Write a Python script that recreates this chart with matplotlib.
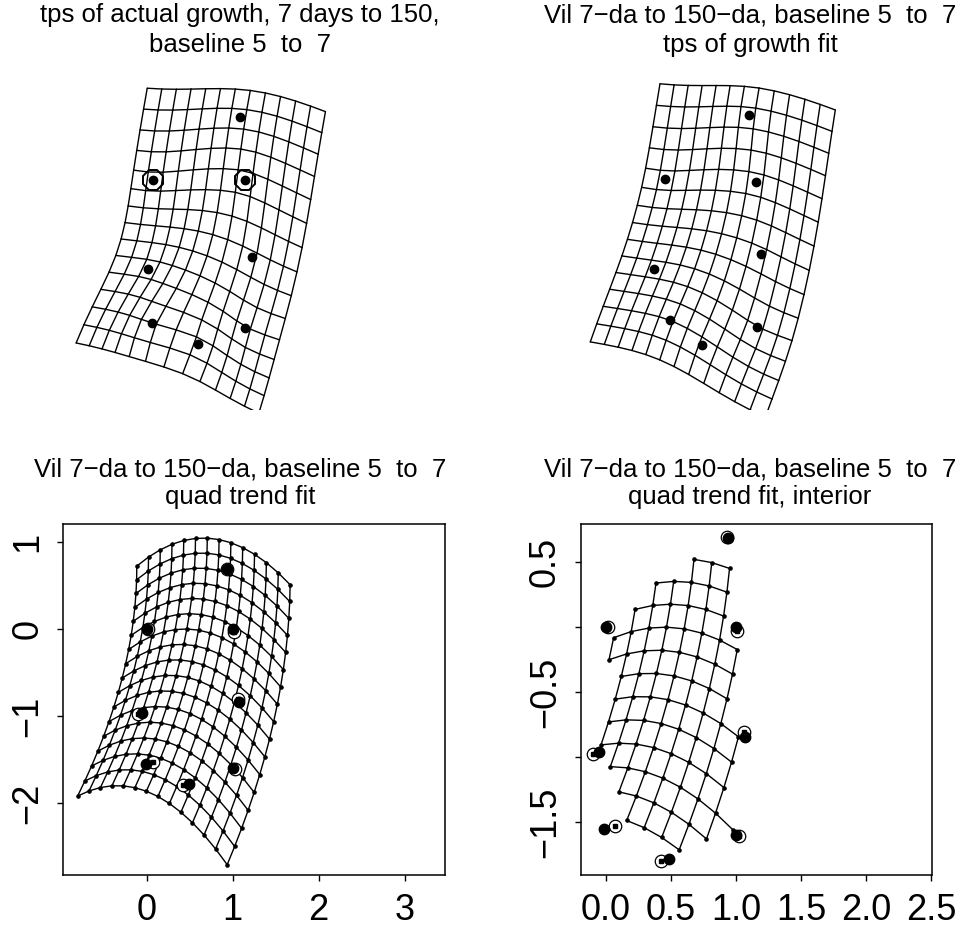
import numpy as np
import matplotlib.pyplot as plt
from matplotlib.collections import LineCollection
from matplotlib.path import Path

plt.rcParams['font.family'] = ['Liberation Sans', 'DejaVu Sans']

# Vilmann rat skulls, Bookstein shape coordinates on baseline 5 to 7
# 7-day mean form (read back off the grids)
day7_x = [0.847, 0.000, 1.000, 0.158, 1.188, 0.548, 0.942, 1.342]
day7_y = [0.489, 0.000, 0.000, -0.827, -0.465, -1.234, -1.289, -0.917]
# 150-day mean form
day150_x = [0.94, 0.00, 1.00, -0.05, 1.07, -0.01, 0.49, 1.00]
day150_y = [0.69, 0.00, 0.00, -0.96, -0.84, -1.55, -1.78, -1.60]
baseline_idx = [1, 2]

# regular grids laid over the 7-day form
tps_x, tps_y = (-0.228, 1.724), (-1.56, 0.715)
tps_lines = (13, 15)
quad_x, quad_y = (-0.2085, 1.571), (-1.463, 0.727)
quad_lines = (14, 17)

titles = [
    ("tps of actual growth, 7 days to 150,", "baseline 5  to  7"),
    ("Vil 7\u2212da to 150\u2212da, baseline 5  to  7", "tps of growth fit"),
    ("Vil 7\u2212da to 150\u2212da, baseline 5  to  7", "quad trend fit"),
    ("Vil 7\u2212da to 150\u2212da, baseline 5  to  7", "quad trend fit, interior"),
]

src = np.column_stack([day7_x, day7_y])
tgt = np.column_stack([day150_x, day150_y])


def kernel(a, b):
    r2 = ((a[:, None, :] - b[None, :, :]) ** 2).sum(-1)
    return np.where(r2 > 0, r2 * np.log(np.where(r2 > 0, r2, 1.0)), 0.0)


def tps(src, dst, pts):
    n = len(src)
    P = np.column_stack([np.ones(n), src])
    L = np.zeros((n + 3, n + 3))
    L[:n, :n] = kernel(src, src)
    L[:n, n:] = P
    L[n:, :n] = P.T
    rhs = np.zeros((n + 3, 2))
    rhs[:n] = dst
    coef = np.linalg.solve(L, rhs)
    return kernel(pts, src) @ coef[:n] + np.column_stack([np.ones(len(pts)), pts]) @ coef[n:]


def quad_terms(p):
    x, y = p[:, 0], p[:, 1]
    return np.column_stack([np.ones(len(p)), x, y, x * x, x * y, y * y])


qcoef = np.linalg.lstsq(quad_terms(src), tgt, rcond=None)[0]
fitted = quad_terms(src) @ qcoef


def lattice(xr, yr, nx, ny):
    gx, gy = np.meshgrid(np.linspace(xr[0], xr[1], nx),
                         np.linspace(yr[1], yr[0], ny))
    return np.column_stack([gx.ravel(), gy.ravel()])


def hull(p):
    pts = sorted(map(tuple, p))
    def half(seq):
        out = []
        for q in seq:
            while len(out) >= 2 and ((out[-1][0] - out[-2][0]) * (q[1] - out[-2][1])
                                     - (out[-1][1] - out[-2][1]) * (q[0] - out[-2][0])) <= 0:
                out.pop()
            out.append(q)
        return out[:-1]
    return np.array(half(pts) + half(pts[::-1]))


def draw_lattice(ax, W, keep=None, dots=False):
    ny, nx = W.shape[:2]
    if keep is None:
        keep = np.ones((ny, nx), bool)
    segs = []
    for j in range(ny):
        for i in range(nx):
            if not keep[j, i]:
                continue
            if i + 1 < nx and keep[j, i + 1]:
                segs.append(W[j, i:i + 2])
            if j + 1 < ny and keep[j + 1, i]:
                segs.append(W[j:j + 2, i])
    ax.add_collection(LineCollection(segs, colors='black', linewidths=1.0,
                                     capstyle='round'))
    if dots:
        ax.plot(W[keep][:, 0], W[keep][:, 1], 'o', ms=2.3, color='black')


fig = plt.figure(figsize=(9.61, 9.31), dpi=100)
FW, FH = 961, 931


def panel(x0, x1, y0, y1):
    return fig.add_axes([x0 / FW, 1 - y1 / FH, (x1 - x0) / FW, (y1 - y0) / FH])


ax1 = panel(63.3, 445, 58.5, 409.5)
ax2 = panel(581, 932.3, 58.5, 409.5)
ax3 = panel(63.3, 445, 524, 875)
ax4 = panel(581, 932.3, 524, 875)

# top left: tps of actual growth
nx, ny = tps_lines
g = lattice(tps_x, tps_y, nx, ny)
draw_lattice(ax1, tps(src, tgt, g).reshape(ny, nx, 2))
ax1.plot(tgt[:, 0], tgt[:, 1], 'o', ms=6, color='black')
ax1.plot(tgt[baseline_idx, 0], tgt[baseline_idx, 1], '8', ms=16,
         mfc='none', mec='black', mew=1.4)
ax1.set_xlim(-0.975, 3.17)
ax1.set_ylim(-2.49, 1.32)
ax1.axis('off')

# top right: tps onto the quadratic fit
draw_lattice(ax2, tps(src, fitted, g).reshape(ny, nx, 2))
ax2.plot(fitted[:, 0], fitted[:, 1], 'o', ms=6, color='black')
ax2.set_xlim(-0.893, 2.925)
ax2.set_ylim(-2.50, 1.313)
ax2.axis('off')

# bottom: quadratic trend grid
nx, ny = quad_lines
g = lattice(quad_x, quad_y, nx, ny)
Wq = (quad_terms(g) @ qcoef).reshape(ny, nx, 2)
inside = Path(hull(src)).contains_points(g).reshape(ny, nx)

for ax, keep in ((ax3, None), (ax4, inside)):
    draw_lattice(ax, Wq, keep, dots=True)
    ax.plot(fitted[:, 0], fitted[:, 1], 'o', ms=9, mfc='white', mec='black', mew=0.9)
    ax.plot(fitted[:, 0], fitted[:, 1], 's', ms=2.3, color='black')
    ax.plot(tgt[:, 0], tgt[:, 1], 'o', ms=7.5, color='black')
    ax.tick_params(direction='out', length=4, width=1, labelsize=26, pad=9)
    ax.tick_params(axis='y', labelrotation=90)
    for s in ax.spines.values():
        s.set_linewidth(1.1)

ax3.set_xlim(-0.97, 3.47)
ax3.set_ylim(-2.83, 1.21)
ax3.set_xticks([0, 1, 2, 3])
ax3.set_yticks([-2, -1, 0, 1])

ax4.set_xlim(-0.19, 2.51)
ax4.set_ylim(-1.905, 0.795)
ax4.set_xticks([0.0, 0.5, 1.0, 1.5, 2.0, 2.5])
ax4.set_xticklabels(['0.0', '0.5', '1.0', '1.5', '2.0', '2.5'])
ax4.set_yticks([0.5, 0.0, -0.5, -1.0, -1.5])
ax4.set_yticklabels(['0.5', '', '\u22120.5', '', '\u22121.5'])

for ax in (ax3, ax4):
    for lab in ax.get_yticklabels():
        lab.set_va('center')

title_x = [240, 750, 240, 750]
title_y = [(15, 45), (15, 45), (470, 497), (470, 497)]
for cx, (y1, y2), (t1, t2) in zip(title_x, title_y, titles):
    fig.text(cx / FW, 1 - y1 / FH, t1, ha='center', va='center', fontsize=18.5)
    fig.text(cx / FW, 1 - y2 / FH, t2, ha='center', va='center', fontsize=18.5)

fig.savefig('out.png', dpi=100)
